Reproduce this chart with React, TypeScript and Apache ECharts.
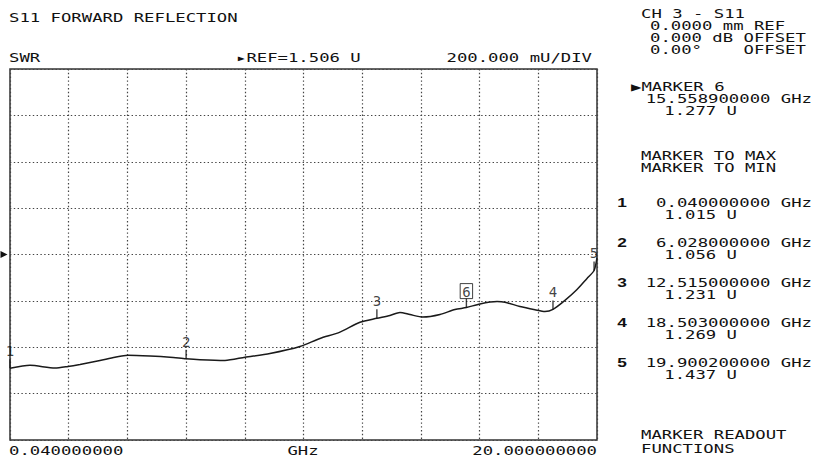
import React, { useEffect, useRef } from "react";
import * as echarts from "echarts";

// Trace (frequency in GHz, SWR in U)
const FREQ_GHZ = [0.04, 0.72, 1.57, 2.01, 2.42, 3.1, 3.61, 4.05, 4.8, 5.48, 6.028, 6.5, 7.35, 8.03, 8.88, 9.9, 10.58, 11.26, 11.94, 12.515, 12.96, 13.3, 13.64, 14.08, 14.66, 15.17, 15.5589, 16.02, 16.6, 16.87, 17.38, 17.89, 18.23, 18.503, 18.91, 19.32, 19.66, 19.9002, 20.0];
const SWR_U = [1.015, 1.028, 1.016, 1.023, 1.032, 1.049, 1.063, 1.071, 1.068, 1.063, 1.056, 1.052, 1.049, 1.063, 1.079, 1.109, 1.144, 1.171, 1.214, 1.231, 1.243, 1.256, 1.247, 1.236, 1.247, 1.269, 1.277, 1.293, 1.303, 1.3, 1.282, 1.268, 1.26, 1.269, 1.308, 1.355, 1.403, 1.437, 1.493];

// Markers
const MARKER_IDS = ["1", "2", "3", "4", "5", "6"];
const MARKER_FREQ = [0.04, 6.028, 12.515, 18.503, 19.9002, 15.5589];
const MARKER_SWR = [1.015, 1.056, 1.231, 1.269, 1.437, 1.277];
const ACTIVE_MARKER = "6";

// Scale
const REF_VALUE = 1.506;
const PER_DIV = 0.2;
const Y_DIVS = 8;
const X_DIVS = 10;
const START_GHZ = 0.04;
const STOP_GHZ = 20.0;

// Tick / header labels
const X_TICK_LABELS = ["0.040000000", "GHz", "20.000000000"];
const TITLE = "S11 FORWARD REFLECTION";
const FORMAT_LABEL = "SWR";
const REF_LABEL = "\u25B8REF=1.506 U";
const SCALE_LABEL = "200.000 mU/DIV";
const CHANNEL_LINES = ["CH 3 - S11", "0.0000 mm REF", "0.000 dB OFFSET", "0.00\u00B0    OFFSET"];
const MENU_LINES = ["MARKER TO MAX", "MARKER TO MIN"];
const FOOTER_LINES = ["MARKER READOUT", "FUNCTIONS"];

const FONT = "'DejaVu Sans Mono', 'Liberation Mono', monospace";
const SX = 1.44;
const INK = "#111111";

function txt(x: number, y: number, text: string, align: string = "left", extra: any = {}) {
  return {
    type: "text",
    x,
    y,
    scaleX: SX,
    silent: true,
    style: {
      text,
      fill: INK,
      font: `12px ${FONT}`,
      align,
      verticalAlign: "middle",
      ...extra,
    },
  };
}

export default function App() {
  const ref = useRef<HTMLDivElement>(null);

  useEffect(() => {
    document.body.style.margin = "0";
    if (!ref.current) return;
    const chart = echarts.init(ref.current, null, { renderer: "svg" });

    const yMax = REF_VALUE + (Y_DIVS / 2) * PER_DIV;
    const yMin = REF_VALUE - (Y_DIVS / 2) * PER_DIV;

    const trace = FREQ_GHZ.map((f, i) => [f, SWR_U[i]]);
    const markers = MARKER_IDS.map((id, i) => ({
      value: [MARKER_FREQ[i], MARKER_SWR[i]],
      name: id,
      label:
        id === ACTIVE_MARKER
          ? { borderColor: INK, borderWidth: 1, padding: [1, 2, 0, 2], distance: 0 }
          : undefined,
    }));

    const graphics: any[] = [];
    graphics.push(txt(9, 18, TITLE));
    graphics.push(txt(9, 58, FORMAT_LABEL));
    graphics.push(txt(236, 58, REF_LABEL));
    graphics.push(txt(592, 58, SCALE_LABEL, "right"));
    graphics.push(txt(9, 451, X_TICK_LABELS[0]));
    graphics.push(txt(303, 451, X_TICK_LABELS[1], "center"));
    graphics.push(txt(597, 451, X_TICK_LABELS[2], "right"));

    graphics.push(txt(641, 14, CHANNEL_LINES[0]));
    CHANNEL_LINES.slice(1).forEach((s, i) => graphics.push(txt(650, 26 + i * 12, s)));

    const ai = MARKER_IDS.indexOf(ACTIVE_MARKER);
    graphics.push(txt(631, 87, "\u25B6MARKER " + ACTIVE_MARKER));
    graphics.push(txt(812, 99, MARKER_FREQ[ai].toFixed(9) + " GHz", "right"));
    graphics.push(txt(737, 111, MARKER_SWR[ai].toFixed(3) + " U", "right"));

    MENU_LINES.forEach((s, i) => graphics.push(txt(641, 156 + i * 12, s)));

    MARKER_IDS.forEach((id, i) => {
      if (id === ACTIVE_MARKER) return;
      const y = 203 + i * 40;
      graphics.push(txt(622, y, id, "center", { fontWeight: "bold" }));
      graphics.push(txt(812, y, MARKER_FREQ[i].toFixed(9) + " GHz", "right"));
      graphics.push(txt(737, y + 12, MARKER_SWR[i].toFixed(3) + " U", "right"));
    });

    FOOTER_LINES.forEach((s, i) => graphics.push(txt(641, 435 + i * 14, s)));

    const gridLine = { show: true, lineStyle: { color: "#444", width: 1.2, type: [1.4, 2.4] } };

    chart.setOption({
      animation: false,
      backgroundColor: "#ffffff",
      grid: {
        left: 10,
        right: 220,
        top: 69,
        bottom: 17,
        show: true,
        borderColor: "#333",
        borderWidth: 1.5,
        backgroundColor: "transparent",
      },
      xAxis: [
        {
          type: "value",
          min: START_GHZ,
          max: STOP_GHZ,
          axisLine: { show: false },
          axisTick: { show: false },
          axisLabel: { show: false },
          splitLine: { show: false },
        },
        {
          type: "value",
          min: 0,
          max: X_DIVS,
          interval: 1,
          axisLine: { show: false },
          axisTick: { show: false },
          axisLabel: { show: false },
          splitLine: gridLine,
        },
      ],
      yAxis: [
        {
          type: "value",
          min: yMin,
          max: yMax,
          axisLine: { show: false },
          axisTick: { show: false },
          axisLabel: { show: false },
          splitLine: { show: false },
        },
        {
          type: "value",
          min: 0,
          max: Y_DIVS,
          interval: 1,
          axisLine: { show: false },
          axisTick: { show: false },
          axisLabel: { show: false },
          splitLine: gridLine,
        },
      ],
      series: [
        {
          type: "line",
          xAxisIndex: 0,
          yAxisIndex: 0,
          data: trace,
          showSymbol: false,
          smooth: 0.25,
          lineStyle: { color: "#1a1a1a", width: 1.5 },
          z: 3,
          markPoint: {
            silent: true,
            data: [
              {
                coord: [START_GHZ, REF_VALUE],
                symbol: "triangle",
                symbolSize: [7, 7],
                symbolRotate: -90,
                symbolOffset: [-6, 0],
                itemStyle: { color: INK },
                label: { show: false },
              },
            ],
          },
        },
        {
          type: "scatter",
          xAxisIndex: 0,
          yAxisIndex: 0,
          data: markers,
          symbol: "rect",
          symbolSize: [1.4, 9],
          symbolOffset: [0, -4.5],
          itemStyle: { color: INK },
          z: 4,
          label: {
            show: true,
            position: "top",
            distance: 1,
            formatter: (p: any) => p.name,
            fontFamily: FONT,
            fontSize: 14,
            color: INK,
          },
        },
      ],
      graphic: graphics,
    });

    return () => chart.dispose();
  }, []);

  return <div ref={ref} style={{ width: 817, height: 457 }} />;
}
